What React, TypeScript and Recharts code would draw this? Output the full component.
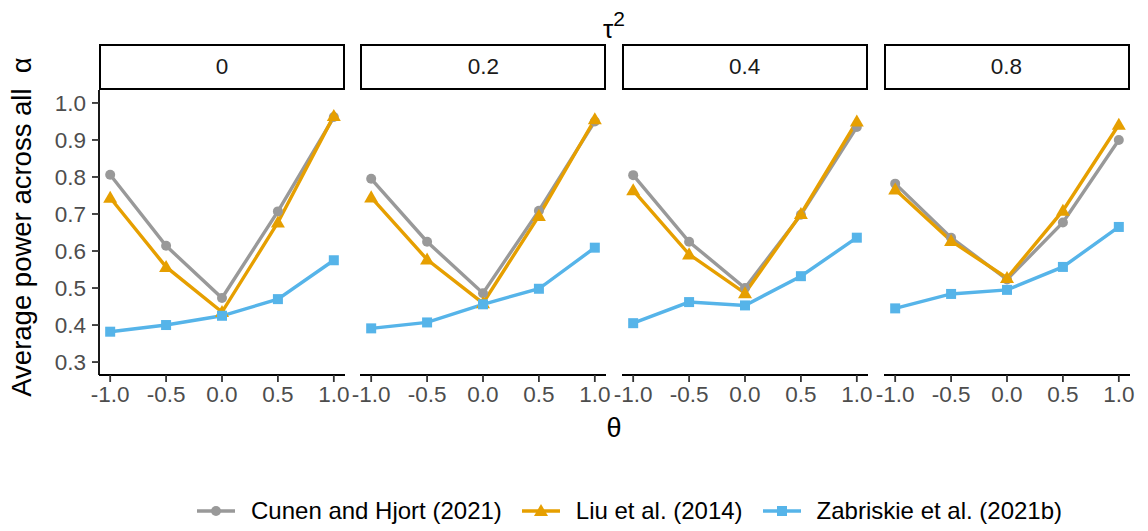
import { LineChart, Line, XAxis, YAxis } from "recharts";

const thetas = [-1, -0.5, 0, 0.5, 1];
const tau2Levels = ["0", "0.2", "0.4", "0.8"];
const yTicks = [0.3, 0.4, 0.5, 0.6, 0.7, 0.8, 0.9, 1.0];

// one row per tau^2 panel, values at each theta
const cunen = [
  [0.806, 0.614, 0.473, 0.707, 0.962],
  [0.795, 0.625, 0.486, 0.709, 0.95],
  [0.805, 0.625, 0.5, 0.698, 0.935],
  [0.782, 0.636, 0.523, 0.677, 0.9],
];
const liu = [
  [0.744, 0.557, 0.435, 0.677, 0.965],
  [0.745, 0.577, 0.459, 0.695, 0.956],
  [0.764, 0.591, 0.486, 0.7, 0.95],
  [0.766, 0.627, 0.527, 0.709, 0.941],
];
const zabriskie = [
  [0.382, 0.4, 0.425, 0.47, 0.575],
  [0.391, 0.407, 0.456, 0.498, 0.609],
  [0.405, 0.462, 0.453, 0.532, 0.636],
  [0.445, 0.484, 0.495, 0.557, 0.665],
];

const GRAY = "#999999";
const ORANGE = "#E69F00";
const BLUE = "#56B4E9";
const FONT = '"Liberation Sans", Arial, sans-serif';

const PLOT_W = 246;
const PLOT_H = 285;
const PLOT_TOP = 90;
const PANEL_LEFTS = [99, 360.3, 621.7, 883.5];
const PAD_L = 60;
const PAD_R = 30;
const PAD_T = 10;
const X_AXIS_H = 45;

function CircleDot(props: any) {
  const { cx, cy, index } = props;
  if (cx == null || cy == null) return <g key={index} />;
  return <circle key={index} cx={cx} cy={cy} r={5} fill={GRAY} />;
}

function TriangleDot(props: any) {
  const { cx, cy, index } = props;
  if (cx == null || cy == null) return <g key={index} />;
  const s = 7;
  const pts = `${cx},${cy - s} ${cx - s},${cy + s * 0.72} ${cx + s},${cy + s * 0.72}`;
  return <polygon key={index} points={pts} fill={ORANGE} />;
}

function SquareDot(props: any) {
  const { cx, cy, index } = props;
  if (cx == null || cy == null) return <g key={index} />;
  return <rect key={index} x={cx - 5} y={cy - 5} width={10} height={10} fill={BLUE} />;
}

function Panel({ idx }: { idx: number }) {
  const rows = thetas.map((t, i) => ({
    theta: t,
    cunen: cunen[idx][i],
    liu: liu[idx][i],
    zab: zabriskie[idx][i],
  }));
  const first = idx === 0;
  const tickStyle = { fill: "#4D4D4D", fontSize: 22.5, fontFamily: FONT };
  return (
    <div
      style={{
        position: "absolute",
        left: PANEL_LEFTS[idx] - PAD_L,
        top: PLOT_TOP - PAD_T,
      }}
    >
      <LineChart
        width={PAD_L + PLOT_W + PAD_R}
        height={PAD_T + PLOT_H + X_AXIS_H}
        data={rows}
        margin={{ top: PAD_T, right: PAD_R, bottom: 0, left: first ? 0 : PAD_L }}
      >
        <XAxis
          dataKey="theta"
          type="number"
          domain={[-1.1, 1.1]}
          ticks={thetas}
          allowDataOverflow
          height={X_AXIS_H}
          tickFormatter={(v: number) => v.toFixed(1)}
          tick={tickStyle}
          tickSize={7}
          tickMargin={4}
          axisLine={{ stroke: "#000", strokeWidth: 1.8 }}
          tickLine={{ stroke: "#333", strokeWidth: 1.8 }}
          interval={0}
        />
        <YAxis
          type="number"
          domain={[0.265, 1.035]}
          ticks={yTicks}
          allowDataOverflow
          hide={!first}
          width={PAD_L}
          tickFormatter={(v: number) => v.toFixed(1)}
          tick={tickStyle}
          tickSize={7}
          tickMargin={6}
          axisLine={{ stroke: "#000", strokeWidth: 1.8 }}
          tickLine={{ stroke: "#333", strokeWidth: 1.8 }}
          interval={0}
        />
        <Line
          dataKey="cunen"
          stroke={GRAY}
          strokeWidth={3.4}
          dot={CircleDot}
          activeDot={false}
          isAnimationActive={false}
        />
        <Line
          dataKey="liu"
          stroke={ORANGE}
          strokeWidth={3.4}
          dot={TriangleDot}
          activeDot={false}
          isAnimationActive={false}
        />
        <Line
          dataKey="zab"
          stroke={BLUE}
          strokeWidth={3.4}
          dot={SquareDot}
          activeDot={false}
          isAnimationActive={false}
        />
      </LineChart>
    </div>
  );
}

function LegendKey({ color, shape }: { color: string; shape: string }) {
  return (
    <svg width={38} height={20} style={{ display: "block" }}>
      <line x1={0} y1={10} x2={38} y2={10} stroke={color} strokeWidth={3.4} />
      {shape === "circle" && <circle cx={19} cy={10} r={5} fill={color} />}
      {shape === "triangle" && <polygon points="19,3 12,15 26,15" fill={color} />}
      {shape === "square" && <rect x={14} y={5} width={10} height={10} fill={color} />}
    </svg>
  );
}

const legendItems = [
  { label: "Cunen and Hjort (2021)", color: GRAY, shape: "circle" },
  { label: "Liu et al. (2014)", color: ORANGE, shape: "triangle" },
  { label: "Zabriskie et al. (2021b)", color: BLUE, shape: "square" },
];

export default function App() {
  return (
    <div
      style={{
        position: "absolute",
        left: 0,
        top: 0,
        width: 1148,
        height: 531,
        background: "#fff",
        fontFamily: FONT,
        overflow: "hidden",
      }}
    >
      {/* facet title */}
      <div
        style={{
          position: "absolute",
          left: 564,
          width: 100,
          top: 16,
          textAlign: "center",
          fontSize: 26,
          lineHeight: "26px",
          color: "#000",
        }}
      >
        τ<sup style={{ fontSize: 21, verticalAlign: "12px", lineHeight: 0 }}>2</sup>
      </div>

      {/* strips */}
      {tau2Levels.map((lab, i) => (
        <div
          key={lab}
          style={{
            position: "absolute",
            left: PANEL_LEFTS[i],
            top: 43.5,
            width: PLOT_W,
            height: 46,
            boxSizing: "border-box",
            border: "2.2px solid #000",
            display: "flex",
            alignItems: "center",
            justifyContent: "center",
            fontSize: 22.5,
            color: "#1A1A1A",
          }}
        >
          {lab}
        </div>
      ))}

      {tau2Levels.map((lab, i) => (
        <Panel key={lab} idx={i} />
      ))}

      {/* y axis title */}
      <div
        style={{
          position: "absolute",
          left: 22,
          top: 227,
          transform: "translate(-50%, -50%) rotate(-90deg)",
          whiteSpace: "nowrap",
          fontSize: 27.5,
          color: "#000",
        }}
      >
        Average power across all{"\u00A0\u00A0"}α
      </div>

      {/* x axis title */}
      <div
        style={{
          position: "absolute",
          left: 564,
          width: 100,
          top: 413,
          textAlign: "center",
          fontSize: 27,
          color: "#000",
        }}
      >
        θ
      </div>

      {/* legend */}
      <div
        style={{
          position: "absolute",
          left: 197,
          top: 497,
          display: "flex",
          alignItems: "center",
          gap: 20,
        }}
      >
        {legendItems.map((it) => (
          <div key={it.label} style={{ display: "flex", alignItems: "center", gap: 16 }}>
            <LegendKey color={it.color} shape={it.shape} />
            <span style={{ fontSize: 24, color: "#000", whiteSpace: "nowrap" }}>{it.label}</span>
          </div>
        ))}
      </div>
    </div>
  );
}
